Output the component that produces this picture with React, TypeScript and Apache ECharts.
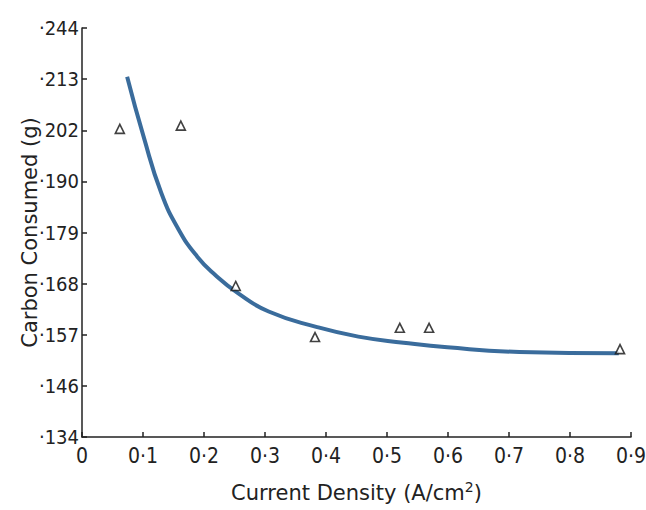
import React, { useEffect, useRef } from "react";
import * as echarts from "echarts";

// Y-axis tick values (grams) and their printed labels (evenly spaced on the page)
const yTickValues = [134, 146, 157, 168, 179, 190, 202, 213, 244];
const yTickLabels = ["·134", "·146", "·157", "·168", "·179", "·190", "202", "·213", "·244"];

// Measured points (triangles)
const measuredDensity = [0.062, 0.162, 0.252, 0.382, 0.521, 0.569, 0.882];
const measuredCarbon = [202.3, 203, 167.5, 156.5, 158.5, 158.5, 153.9];

// Fitted curve
const fitDensity = [0.074, 0.101, 0.13, 0.159, 0.189, 0.218, 0.255, 0.306, 0.384, 0.453, 0.527, 0.599, 0.717, 0.88];
const fitCarbon = [214.5, 200.5, 187.5, 179.5, 173.8, 169.9, 166.0, 162.0, 158.7, 156.6, 155.3, 154.3, 153.3, 153.0];

// map grams to the (piecewise) tick position on the printed axis
function toAxis(g: number): number {
  for (let i = 0; i < yTickValues.length - 1; i++) {
    if (g <= yTickValues[i + 1] || i === yTickValues.length - 2) {
      return i + (g - yTickValues[i]) / (yTickValues[i + 1] - yTickValues[i]);
    }
  }
  return 0;
}

const FONT = "'DejaVu Sans Condensed', 'DejaVu Sans', sans-serif";
const NAME_FONT = "'DejaVu Sans', sans-serif";

export default function App() {
  const ref = useRef<HTMLDivElement>(null);
  useEffect(() => {
    if (!ref.current) return;
    const chart = echarts.init(ref.current, null, { renderer: "svg" });
    chart.setOption({
      animation: false,
      backgroundColor: "#ffffff",
      grid: { left: 82, right: 15, top: 28, bottom: 73, containLabel: false, outerBoundsMode: "none" },
      xAxis: {
        type: "value",
        min: 0,
        max: 0.9,
        interval: 0.1,
        name: "Current Density (A/cm{sup|2})",
        nameLocation: "middle",
        nameGap: 43,
        nameMoveOverlap: false,
        nameTextStyle: {
          fontFamily: NAME_FONT,
          fontSize: 21,
          color: "#222",
          rich: { sup: { fontFamily: NAME_FONT, fontSize: 14, color: "#222", verticalAlign: "top", padding: [0, 0, 12, 0] } },
        },
        axisLine: { show: true, lineStyle: { color: "#222", width: 1.5 } },
        axisTick: { show: true, inside: true, length: 5, lineStyle: { color: "#222", width: 1.5 } },
        splitLine: { show: false },
        axisLabel: {
          fontFamily: FONT,
          fontSize: 21,
          color: "#222",
          margin: 8,
          formatter: (v: number) => (v === 0 ? "0" : v.toFixed(1).replace(".", "·")),
        },
      },
      yAxis: {
        type: "value",
        min: 0,
        max: 8,
        interval: 1,
        name: "Carbon Consumed (g)",
        nameLocation: "middle",
        nameGap: 42,
        nameMoveOverlap: false,
        nameTextStyle: { fontFamily: NAME_FONT, fontSize: 21, color: "#222" },
        axisLine: { show: true, lineStyle: { color: "#222", width: 1.5 } },
        axisTick: { show: true, inside: true, length: 5, lineStyle: { color: "#222", width: 1.5 } },
        splitLine: { show: false },
        axisLabel: {
          fontFamily: FONT,
          fontSize: 20,
          color: "#222",
          margin: 3,
          formatter: (v: number) => yTickLabels[Math.round(v)] ?? "",
        },
      },
      series: [
        {
          type: "line",
          smooth: 0.5,
          showSymbol: false,
          lineStyle: { color: "#3a6c9c", width: 4 },
          data: fitDensity.map((x, i) => [x, toAxis(fitCarbon[i])]),
          z: 2,
        },
        {
          type: "scatter",
          symbol: "triangle",
          symbolSize: 9,
          itemStyle: { color: "#ffffff", borderColor: "#111", borderWidth: 1.6 },
          data: measuredDensity.map((x, i) => [x, toAxis(measuredCarbon[i])]),
          z: 3,
        },
      ],
    });
    return () => chart.dispose();
  }, []);
  return <div ref={ref} style={{ position: "fixed", left: 0, top: 0, width: 646, height: 510 }} />;
}
